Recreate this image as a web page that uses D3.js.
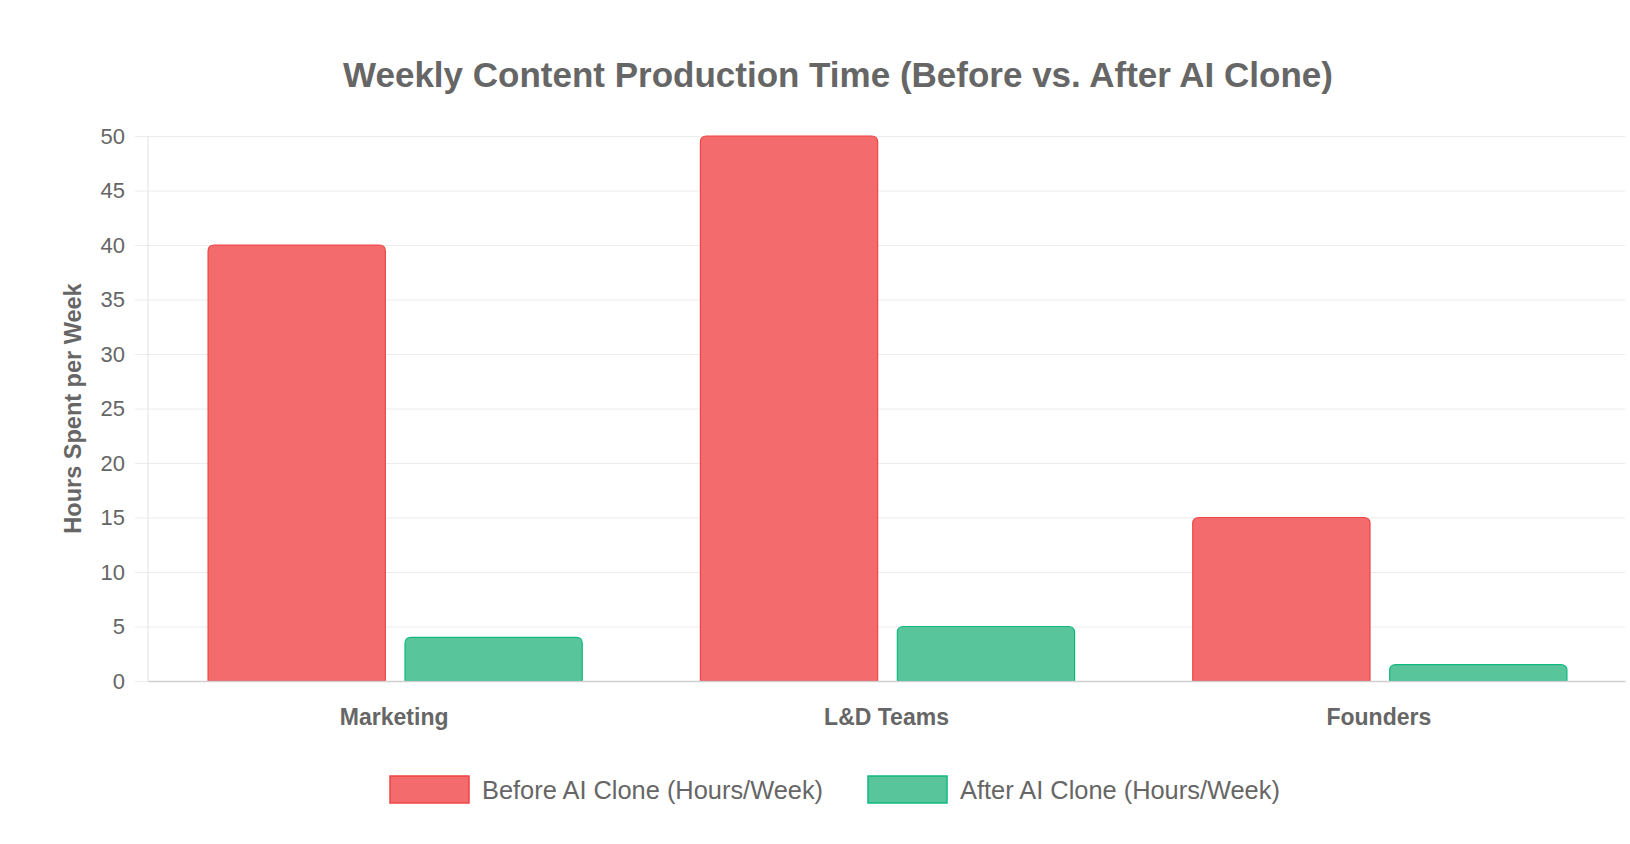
<!DOCTYPE html>
<html>
<head>
<meta charset="utf-8">
<script src="https://cdn.jsdelivr.net/npm/d3@7"></script>
<style>
  body { margin: 0; background: #fff; }
  svg { display: block; font-family: "Liberation Sans", Arial, sans-serif; }
</style>
</head>
<body>
<svg></svg>
<script>
// chart data
let categories = ["Marketing", "L&D Teams", "Founders"]
let seriesNames = ["Before AI Clone (Hours/Week)", "After AI Clone (Hours/Week)"]
let beforeValues = [40, 50, 15]
let afterValues = [4, 5, 1.5]
let yTicks = [0, 5, 10, 15, 20, 25, 30, 35, 40, 45, 50]

let fills = ["#f36b6d", "#58c69a"]
let strokes = ["#ef4444", "#10b981"]

// canvas size
let width = 1630
let height = 844
let plotLeft = 148
let plotRight = 1625
let plotTop = 136
let plotBottom = 681

let svg = d3.select("svg").attr("width", width).attr("height", height)

let xScale = d3.scaleBand().domain(categories).range([plotLeft, plotRight])
let bw = xScale.bandwidth()
let x1 = d3.scaleBand().domain([0, 1]).range([bw * 0.1, bw * 0.9])
let yScale = d3.scaleLinear().domain([0, 50]).range([plotBottom, plotTop])

// grid lines + y axis
let yAxis = d3.axisLeft(yScale).tickValues(yTicks).tickSize(plotRight - plotLeft + 13).tickPadding(10)
let gy = svg.append("g")
    .attr("transform", "translate(" + plotRight + ",0)")
    .call(yAxis)
gy.select(".domain").remove()
gy.selectAll(".tick line").attr("stroke", "#ececec").attr("stroke-width", 1)
gy.selectAll(".tick text")
    .attr("fill", "#666")
    .attr("font-size", 22)

// vertical axis line
svg.append("line")
    .attr("x1", plotLeft).attr("x2", plotLeft)
    .attr("y1", plotTop).attr("y2", plotBottom)
    .attr("stroke", "#e2e2e2")

// bars
let series = [beforeValues, afterValues]
let roundedTop = (x, y, w, h, r) => {
    r = Math.min(r, h, w / 2)
    return "M" + x + "," + (y + h) +
        "V" + (y + r) +
        "Q" + x + "," + y + " " + (x + r) + "," + y +
        "H" + (x + w - r) +
        "Q" + (x + w) + "," + y + " " + (x + w) + "," + (y + r) +
        "V" + (y + h) + "Z"
}
series.forEach((vals, si) => {
    let slot = x1.bandwidth()
    let barW = slot * 0.9
    svg.append("g").selectAll("path")
        .data(vals)
        .enter()
        .append("path")
        .attr("d", (d, i) => {
            let x = xScale(categories[i]) + x1(si) + slot * 0.05 + 1
            let y = yScale(d)
            return roundedTop(x, y, barW, plotBottom - y, 6)
        })
        .attr("fill", fills[si])
        .attr("stroke", strokes[si])
        .attr("stroke-width", 1.2)
})

// x axis
let xAxis = d3.axisBottom(xScale).tickSize(0).tickPadding(28)
let gx = svg.append("g")
    .attr("transform", "translate(0," + plotBottom + ")")
    .call(xAxis)
gx.select(".domain").attr("stroke", "#d0d0d0").attr("stroke-width", 1.5)
gx.selectAll(".tick text")
    .attr("fill", "#666")
    .attr("font-size", 23)
    .attr("font-weight", "bold")

// y axis title
svg.append("text")
    .attr("transform", "translate(81," + ((plotTop + plotBottom) / 2) + ") rotate(-90)")
    .attr("text-anchor", "middle")
    .attr("fill", "#666")
    .attr("font-size", 23.5)
    .attr("font-weight", "bold")
    .text("Hours Spent per Week")

// title
svg.append("text")
    .attr("x", 838)
    .attr("y", 87)
    .attr("text-anchor", "middle")
    .attr("fill", "#666")
    .attr("font-size", 35)
    .attr("font-weight", "bold")
    .text("Weekly Content Production Time (Before vs. After AI Clone)")

// legend
let legendX = [390, 868]
let legend = svg.append("g")
seriesNames.forEach((name, i) => {
    legend.append("rect")
        .attr("x", legendX[i]).attr("y", 776)
        .attr("width", 79).attr("height", 27)
        .attr("fill", fills[i])
        .attr("stroke", strokes[i])
        .attr("stroke-width", 1.5)
    legend.append("text")
        .attr("x", legendX[i] + 92).attr("y", 799)
        .attr("fill", "#666")
        .attr("font-size", 25.4)
        .text(name)
})
</script>
</body>
</html>
